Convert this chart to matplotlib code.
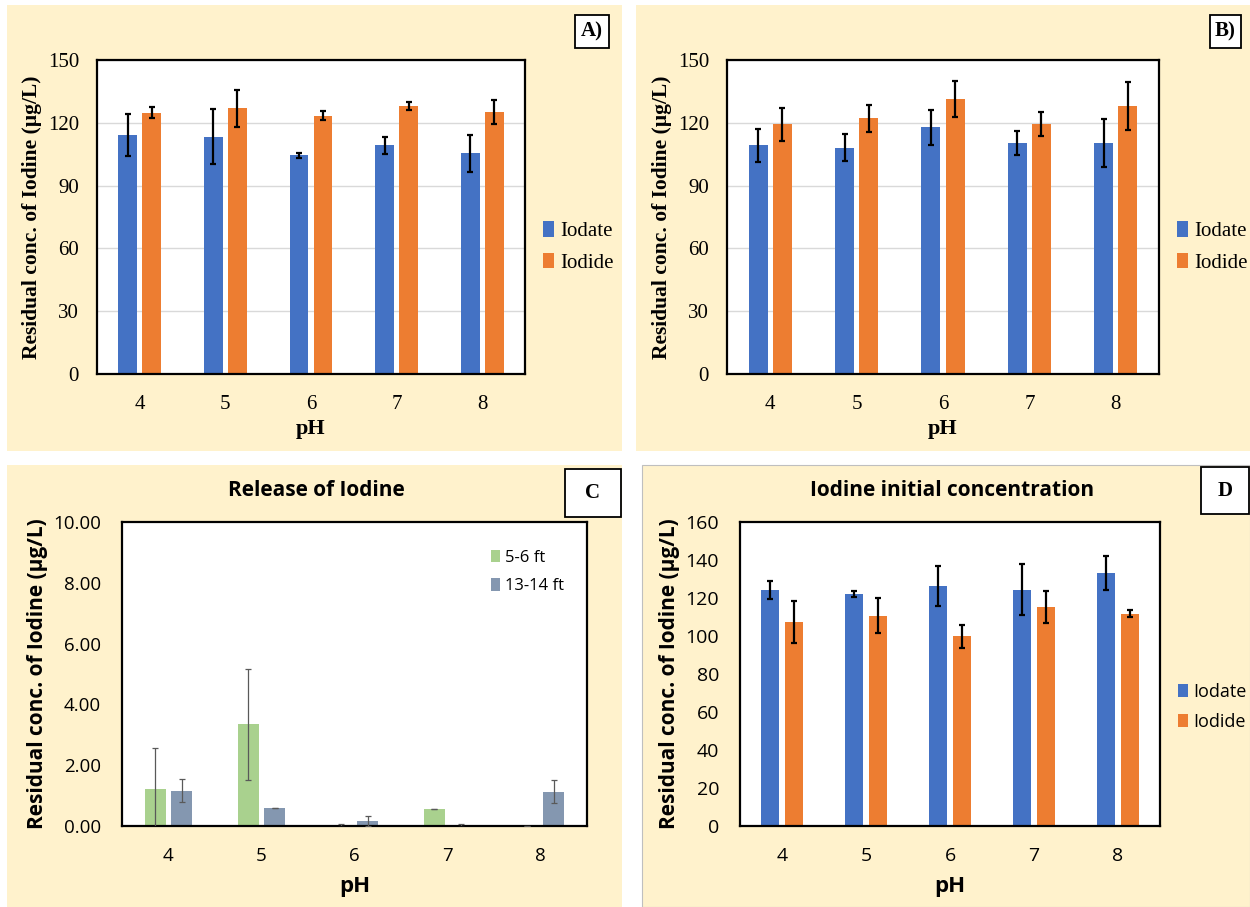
import numpy as np
import matplotlib
matplotlib.use('Agg')
import matplotlib.pyplot as plt
from matplotlib.patches import Rectangle

# data
ph = [4, 5, 6, 7, 8]

# panel A
a_iodate = [114.0, 113.4, 104.6, 109.2, 105.4]
a_iodate_err = [10.0, 13.0, 1.2, 3.9, 9.0]
a_iodide = [124.8, 126.9, 123.4, 128.0, 125.2]
a_iodide_err = [2.6, 8.7, 2.2, 1.8, 5.7]

# panel B
b_iodate = [109.2, 108.1, 117.8, 110.5, 110.2]
b_iodate_err = [8.0, 6.4, 8.4, 5.8, 11.5]
b_iodide = [119.3, 122.1, 131.4, 119.3, 127.9]
b_iodide_err = [8.0, 6.4, 8.5, 5.8, 11.4]

# panel C
c_shallow = [1.23, 3.34, 0.03, 0.56, 0.0]
c_shallow_err = [1.35, 1.83, 0.05, 0.01, 0.0]
c_deep = [1.16, 0.59, 0.16, 0.02, 1.13]
c_deep_err = [0.38, 0.01, 0.17, 0.05, 0.37]

# panel D
d_iodate = [124.1, 122.0, 126.5, 124.3, 133.0]
d_iodate_err = [4.6, 1.5, 10.6, 13.4, 9.0]
d_iodide = [107.2, 110.7, 99.8, 115.3, 111.8]
d_iodide_err = [11.0, 9.3, 6.2, 8.4, 2.0]

BLUE = '#4472C4'
ORANGE = '#ED7D31'
GREEN = '#A9D18E'
SLATE = '#8497B0'
BG = '#FFF2CC'

W, H = 1250, 907
fig = plt.figure(figsize=(W / 100, H / 100), dpi=100)
fig.patch.set_facecolor('white')


def px_rect(x0, y0, x1, y1):
    # pixel box (top-left origin) -> figure fraction
    return [x0 / W, 1 - y1 / H, (x1 - x0) / W, (y1 - y0) / H]


def background(x0, y0, x1, y1, edge=None):
    r = px_rect(x0, y0, x1, y1)
    fig.patches.append(Rectangle((r[0], r[1]), r[2], r[3], transform=fig.transFigure,
                                 facecolor=BG, edgecolor=edge if edge else 'none',
                                 linewidth=0.8, zorder=-10))


def label_box(x0, y0, x1, y1, text):
    r = px_rect(x0, y0, x1, y1)
    fig.patches.append(Rectangle((r[0], r[1]), r[2], r[3], transform=fig.transFigure,
                                 facecolor='white', edgecolor='black', linewidth=1.3, zorder=5))
    fig.text(r[0] + r[2] / 2, r[1] + r[3] / 2, text, ha='center', va='center',
             family='Liberation Serif', weight='bold', fontsize=15, zorder=6)


def bar_panel(ax, v1, e1, v2, e2, c1, c2, ecolor, elw, cap, grid):
    x = np.array(ph, dtype=float)
    ax.bar(x - 0.14, v1, width=0.22, color=c1, edgecolor='none', zorder=2)
    ax.bar(x + 0.14, v2, width=0.22, color=c2, edgecolor='none', zorder=2)
    ax.errorbar(x - 0.14, v1, yerr=e1, fmt='none', ecolor=ecolor, elinewidth=elw,
                capsize=cap, capthick=elw, zorder=3)
    ax.errorbar(x + 0.14, v2, yerr=e2, fmt='none', ecolor=ecolor, elinewidth=elw,
                capsize=cap, capthick=elw, zorder=3)
    ax.set_xlim(3.5, 8.5)
    ax.set_xticks(ph)
    ax.tick_params(length=0)
    for s in ax.spines.values():
        s.set_linewidth(1.6)
        s.set_color('black')
    if grid:
        ax.yaxis.grid(True, color='#D9D9D9', linewidth=1.0, zorder=0)
        ax.set_axisbelow(True)


def legend_at(ax, labels, x, y, font, spacing):
    ax.legend(labels, loc='center left', bbox_to_anchor=(x / W, 1 - y / H),
              bbox_transform=fig.transFigure, frameon=False, prop=font,
              handlelength=0.55, handleheight=0.75, handletextpad=0.3,
              labelspacing=spacing, borderpad=0, borderaxespad=0)


# ---- backgrounds
background(7, 5, 622, 451)
background(636, 5, 1250, 451)
background(7, 465, 622, 907)
background(642, 465, 1250, 907, edge='#BFBFBF')

serif = 'Liberation Serif'
sans = 'Open Sans'

# ---- A and B
for rect, v1, e1, v2, e2, tag, box, leg in [
        (px_rect(97, 60, 525, 374), a_iodate, a_iodate_err, a_iodide, a_iodide_err,
         'A)', (575, 15, 609, 48), (543, 247)),
        (px_rect(727, 60, 1159, 374), b_iodate, b_iodate_err, b_iodide, b_iodide_err,
         'B)', (1210, 15, 1241, 48), (1177, 247))]:
    ax = fig.add_axes(rect)
    bar_panel(ax, v1, e1, v2, e2, BLUE, ORANGE, 'black', 1.6, 2, True)
    ax.set_ylim(0, 150)
    ax.set_yticks([0, 30, 60, 90, 120, 150])
    for lab in ax.get_xticklabels() + ax.get_yticklabels():
        lab.set_family(serif)
        lab.set_fontsize(15)
    ax.tick_params(axis='y', pad=13)
    ax.tick_params(axis='x', pad=15)
    ax.set_xlabel('pH', family=serif, weight='bold', fontsize=16, labelpad=4)
    ax.set_ylabel('Residual conc. of Iodine (µg/L)', family=serif, weight='bold',
                  fontsize=15.5, labelpad=4)
    legend_at(ax, ['Iodate', 'Iodide'], leg[0], leg[1], {'family': serif, 'size': 15}, 0.55)
    label_box(*box, tag)

# ---- C
axc = fig.add_axes(px_rect(122, 522, 587, 826))
bar_panel(axc, c_shallow, c_shallow_err, c_deep, c_deep_err, GREEN, SLATE, '#595959', 0.9, 2, False)
axc.set_ylim(0, 10)
axc.set_yticks([0, 2, 4, 6, 8, 10])
axc.set_yticklabels(['%.2f' % t for t in [0, 2, 4, 6, 8, 10]])
for lab in axc.get_xticklabels() + axc.get_yticklabels():
    lab.set_family(sans)
    lab.set_fontsize(13.5)
axc.tick_params(axis='y', pad=15)
axc.tick_params(axis='x', pad=15)
axc.set_xlabel('pH', family=sans, weight='bold', fontsize=16, labelpad=8)
axc.set_ylabel('Residual conc. of Iodine (µg/L)', family=sans, weight='bold', fontsize=15, labelpad=4)
fig.text(316 / W, 1 - 490 / H, 'Release of Iodine', family=sans, weight='bold', fontsize=15,
         ha='center', va='center')
legend_at(axc, ['5-6 ft', '13-14 ft'], 491, 572, {'family': sans, 'size': 12}, 0.75)
label_box(565, 469, 621, 517, 'C')

# ---- D
axd = fig.add_axes(px_rect(740, 522, 1160, 826))
bar_panel(axd, d_iodate, d_iodate_err, d_iodide, d_iodide_err, BLUE, ORANGE, 'black', 1.6, 2, False)
axd.set_ylim(0, 160)
axd.set_yticks(range(0, 161, 20))
for lab in axd.get_xticklabels() + axd.get_yticklabels():
    lab.set_family(sans)
    lab.set_fontsize(14)
axd.tick_params(axis='y', pad=15)
axd.tick_params(axis='x', pad=15)
axd.set_xlabel('pH', family=sans, weight='bold', fontsize=16, labelpad=8)
axd.set_ylabel('Residual conc. of Iodine (µg/L)', family=sans, weight='bold', fontsize=15, labelpad=4)
fig.text(952 / W, 1 - 490 / H, 'Iodine initial concentration', family=sans, weight='bold',
         fontsize=15, ha='center', va='center')
legend_at(axd, ['Iodate', 'Iodide'], 1178, 707, {'family': sans, 'size': 13}, 0.65)
label_box(1201, 467, 1249, 514, 'D')

fig.savefig('out.png', dpi=100)
